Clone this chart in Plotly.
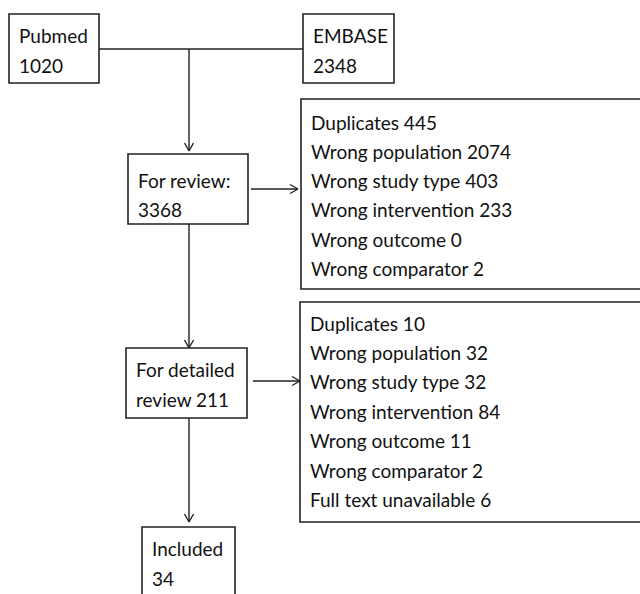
import plotly.graph_objects as go

# ---- data ----
source_names = ["Pubmed", "EMBASE"]
source_counts = [1020, 2348]
review_label = "For review:"
review_count = 3368
excl1_reasons = ["Duplicates", "Wrong population", "Wrong study type",
                 "Wrong intervention", "Wrong outcome", "Wrong comparator"]
excl1_counts = [445, 2074, 403, 233, 0, 2]
detailed_label = ["For detailed", "review"]
detailed_count = 211
excl2_reasons = ["Duplicates", "Wrong population", "Wrong study type",
                 "Wrong intervention", "Wrong outcome", "Wrong comparator",
                 "Full text unavailable"]
excl2_counts = [10, 32, 32, 84, 11, 2, 6]
included_label = "Included"
included_count = 34

W, H = 640, 594
FONT = dict(family="Lato, 'Open Sans', sans-serif", size=19, color="#111111")
LC = "#222222"
LW = 1.4

fig = go.Figure()
shapes = []
annots = []

def box(x0, y0, x1, y1):
    shapes.append(dict(type="rect", x0=x0, y0=y0, x1=x1, y1=y1, xref="x", yref="y",
                       line=dict(color=LC, width=1.6), fillcolor="rgba(0,0,0,0)"))

def line(x0, y0, x1, y1):
    shapes.append(dict(type="line", x0=x0, y0=y0, x1=x1, y1=y1, xref="x", yref="y",
                       line=dict(color=LC, width=LW)))

def arrow_down(x, y0, y1):
    line(x, y0, x, y1)
    line(x - 4.5, y1 - 8, x, y1)
    line(x + 4.5, y1 - 8, x, y1)

def arrow_right(y, x0, x1):
    line(x0, y, x1, y)
    line(x1 - 8, y - 4.5, x1, y)
    line(x1 - 8, y + 4.5, x1, y)

def text(x, y, s):
    annots.append(dict(x=x, y=y, xref="x", yref="y", text=s, showarrow=False,
                       xanchor="left", yanchor="middle", font=FONT))

# source boxes
box(9, 14, 99, 83)
text(17, 35, source_names[0]); text(17, 65, str(source_counts[0]))
box(303, 14, 394, 83)
text(311, 35, source_names[1]); text(311, 65, str(source_counts[1]))
line(99, 49, 303, 49)
arrow_down(189, 49, 151)

# for review
box(128, 154, 248, 224)
text(136, 180, review_label); text(136, 209, str(review_count))
arrow_right(189, 251, 298)

# exclusion box 1
box(301, 99, 643, 289)
for i, (r, c) in enumerate(zip(excl1_reasons, excl1_counts)):
    text(309, 122 + i * 29.3, f"{r} {c}")

arrow_down(189, 224, 348)

# detailed review
box(126, 348, 247, 418)
text(134, 369, detailed_label[0]); text(134, 399, f"{detailed_label[1]} {detailed_count}")
arrow_right(381, 253, 300)

# exclusion box 2
box(300, 302, 643, 522)
for i, (r, c) in enumerate(zip(excl2_reasons, excl2_counts)):
    text(308, 323 + i * 29.4, f"{r} {c}")

arrow_down(189, 418, 522)

# included
box(142, 527, 235, 600)
text(150, 548, included_label); text(150, 578, str(included_count))

fig.update_layout(
    width=W, height=H, margin=dict(l=0, r=0, t=0, b=0),
    paper_bgcolor="white", plot_bgcolor="white",
    xaxis=dict(range=[0, W], visible=False, fixedrange=True),
    yaxis=dict(range=[H, 0], visible=False, fixedrange=True),
    shapes=shapes, annotations=annots, showlegend=False,
)
fig.write_html("out.html", config=dict(displayModeBar=False),
               post_script="document.body.style.margin='0';document.body.style.overflow='hidden';")
